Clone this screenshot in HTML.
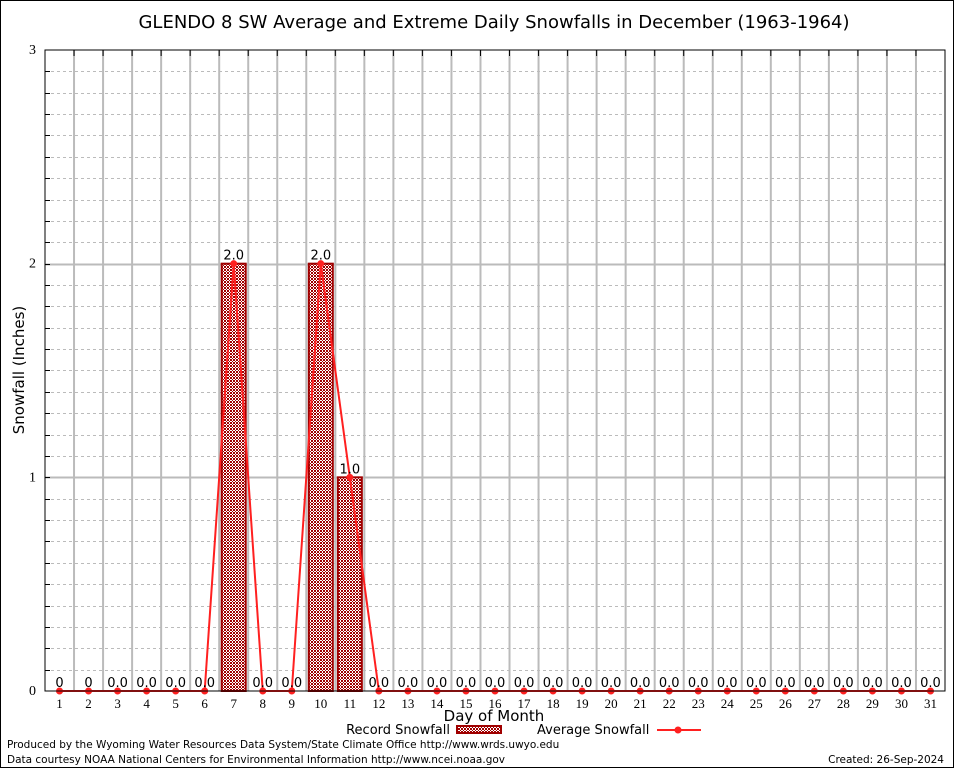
<!DOCTYPE html>
<html><head><meta charset="utf-8"><style>
body{margin:0;background:#fff}
svg text{font-family:"DejaVu Sans","Liberation Sans",sans-serif}
svg text.serif{font-family:"Liberation Serif",serif}
</style></head><body>
<svg id="chart" width="954" height="768" viewBox="0 0 954 768" xmlns="http://www.w3.org/2000/svg">
<defs>
<pattern id="chk" width="3" height="3" patternUnits="userSpaceOnUse">
<rect width="3" height="3" fill="#fff"/><rect width="1" height="1" fill="#a00000"/><rect x="1" y="1" width="1" height="1" fill="#a00000"/><rect x="2" y="2" width="1" height="1" fill="#a00000"/><rect x="2" y="0" width="1" height="1" fill="#a00000"/><rect x="0" y="2" width="1" height="1" fill="#a00000"/>
</pattern>
</defs>
<rect x="0.5" y="0.5" width="953" height="767" fill="#fff" stroke="#000"/>
<text x="494" y="28" font-size="18" text-anchor="middle">GLENDO 8 SW Average and Extreme Daily Snowfalls in December (1963-1964)</text>
<g id="grid"></g>
<g id="bars"></g>
<g id="line"></g>
<g id="labels"></g>
<rect x="45" y="50" width="900" height="641" fill="none" stroke="#000" stroke-width="1"/>
<text x="24" y="370" font-size="15" text-anchor="middle" transform="rotate(-90 24 370)">Snowfall (Inches)</text>
<text x="494" y="721" font-size="15" text-anchor="middle">Day of Month</text>
<g>
<text x="450" y="734" font-size="13" text-anchor="end">Record Snowfall</text>
<rect x="457" y="726" width="44" height="7" fill="url(#chk)" stroke="#a00000" stroke-width="2"/>
<text x="537" y="734" font-size="13">Average Snowfall</text>
<line x1="657" y1="730" x2="701" y2="730" stroke="#ff2020" stroke-width="2"/>
<circle cx="678" cy="730" r="3.5" fill="#ff2020"/>
</g>
<text x="7" y="748" font-size="10.5">Produced by the Wyoming Water Resources Data System/State Climate Office http://www.wrds.uwyo.edu</text>
<text x="7" y="763" font-size="10.5">Data courtesy NOAA National Centers for Environmental Information http://www.ncei.noaa.gov</text>
<text x="944" y="763" font-size="10.5" text-anchor="end">Created: 26-Sep-2024</text>
</svg>
<script>
const days = [1,2,3,4,5,6,7,8,9,10,11,12,13,14,15,16,17,18,19,20,21,22,23,24,25,26,27,28,29,30,31];
const recordValues = [0,0,0,0,0,0,2,0,0,2,1,0,0,0,0,0,0,0,0,0,0,0,0,0,0,0,0,0,0,0,0];
const averageValues = [0,0,0,0,0,0,2,0,0,2,1,0,0,0,0,0,0,0,0,0,0,0,0,0,0,0,0,0,0,0,0];
const recordLabels = ["0","0","0.0","0.0","0.0","0.0","2.0","0.0","0.0","2.0","1.0","0.0","0.0","0.0","0.0","0.0","0.0","0.0","0.0","0.0","0.0","0.0","0.0","0.0","0.0","0.0","0.0","0.0","0.0","0.0","0.0"];
const yTicks = [0,1,2,3];
const NS="http://www.w3.org/2000/svg";
const L=45,R=945,T=50,B=691,yMax=3;
const step=(R-L)/days.length;
const x=d=>L+(d-0.5)*step;
const y=v=>B-(v/yMax)*(B-T);
function mk(tag,attrs,parent,txt){const e=document.createElementNS(NS,tag);for(const k in attrs)e.setAttribute(k,attrs[k]);if(txt!==undefined)e.textContent=txt;parent.appendChild(e);return e;}
const grid=document.getElementById('grid');
for(let v=0.1;v<yMax-0.001;v+=0.1){
  const yy=Math.round(y(v))+0.5;
  const major=Math.abs(v-Math.round(v))<0.001;
  const g=mk('line',{x1:L,x2:R,y1:yy,y2:yy,stroke:'#bbb','stroke-width':major?2:1,'stroke-dasharray':major?'':'3,3'},grid);
  
  
  const t=mk('line',{x1:L,x2:L+5,y1:yy,y2:yy,stroke:'#000'},grid);
  
  
}
yTicks.forEach(v=>{
  const t=mk('text',{x:L-9,y:y(v)+4,'font-size':14,'text-anchor':'end','class':'serif'},grid,String(v));
  
  
});
for(let i=1;i<days.length;i++){
  const xx=L+i*step;
  const g=mk('line',{x1:xx,x2:xx,y1:T,y2:B,stroke:'#bbb','stroke-width':2},grid);
  
  
  const t=mk('line',{x1:xx,x2:xx,y1:T,y2:T+6,stroke:'#000'},grid);
  
  
}
days.forEach(d=>{
  const t=mk('text',{x:x(d),y:B+17,'font-size':13,'text-anchor':'middle','class':'serif'},grid,String(d));
  
  
});
const bars=document.getElementById('bars');
days.forEach((d,i)=>{
  const v=recordValues[i];
  if(v>0){
    const b=mk('rect',{x:x(d)-12,y:y(v),width:24,height:y(0)-y(v),fill:'url(#chk)',stroke:'#a00000','stroke-width':2},bars);
    
    
  }
});
const line=document.getElementById('line');
const pts=days.map((d,i)=>x(d)+','+y(averageValues[i])).join(' ');
const pl=mk('polyline',{points:pts,fill:'none',stroke:'#ff2020','stroke-width':2},line);


days.forEach((d,i)=>{
  const m=mk('circle',{cx:x(d),cy:y(averageValues[i]),r:3.5,fill:'#ff2020'},line);
  
  
});
const labels=document.getElementById('labels');
days.forEach((d,i)=>{
  const t=mk('text',{x:x(d),y:y(recordValues[i])-4,'font-size':13,'text-anchor':'middle'},labels,recordLabels[i]);
  
  
});
</script>
</body></html>
